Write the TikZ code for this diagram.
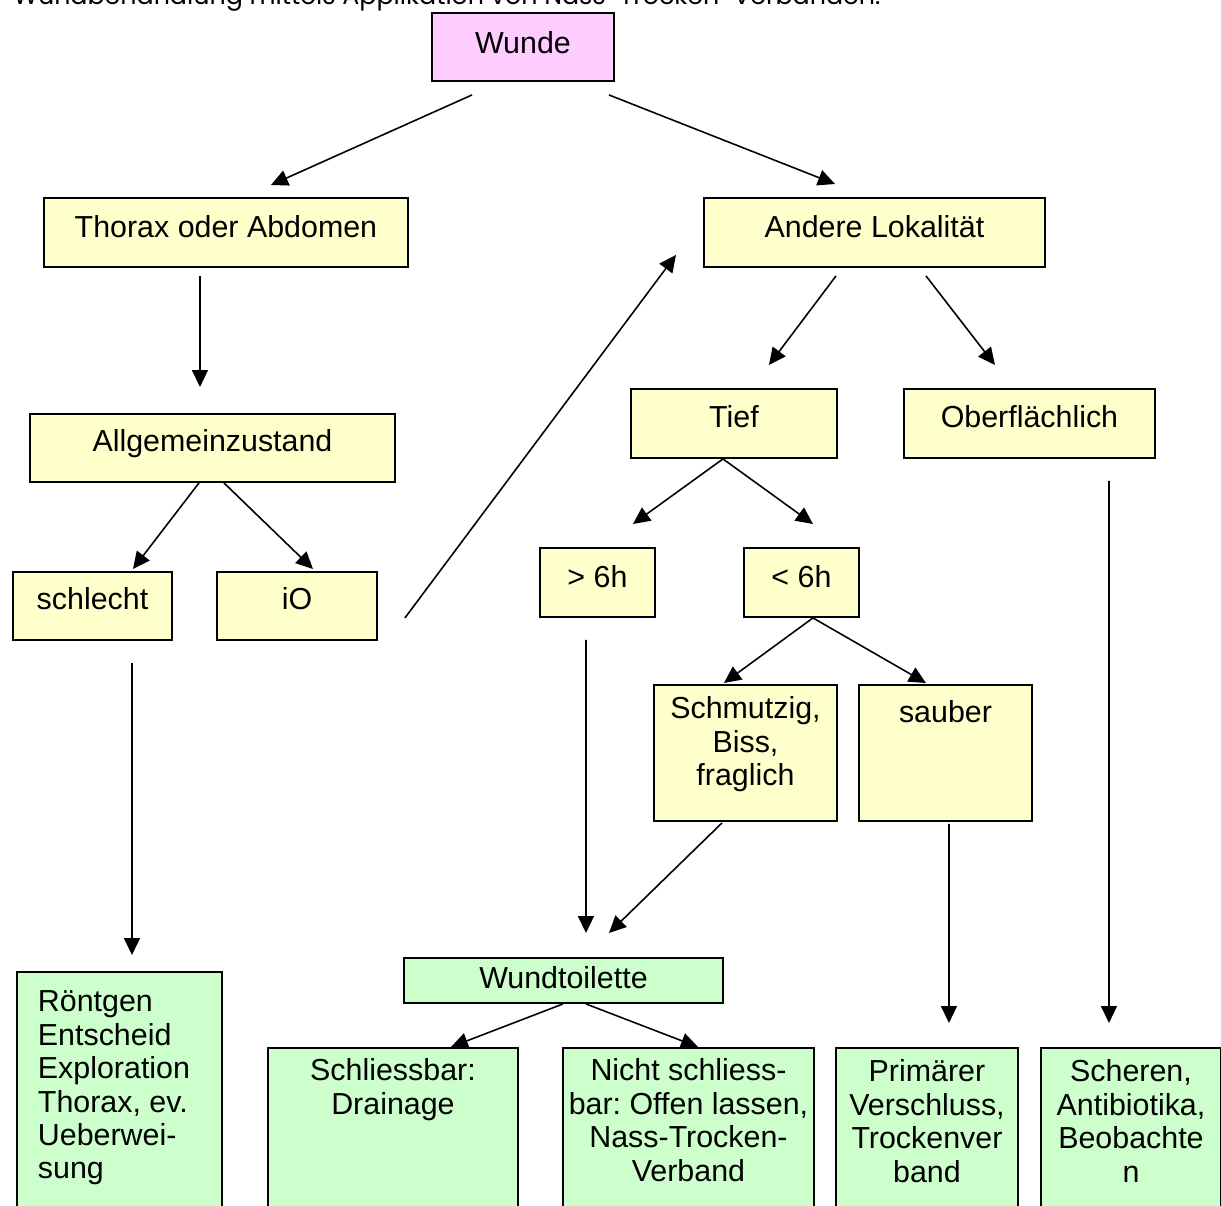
\documentclass[tikz,border=0pt]{standalone}
\usepackage{fontspec}
\setmainfont{Liberation Sans}
\newfontfamily\titlefont{Poppins}
\usepackage{graphicx}
\usetikzlibrary{arrows.meta}
\frenchspacing
\definecolor{boxyellow}{RGB}{255,255,204}
\definecolor{boxgreen}{RGB}{204,255,204}
\definecolor{boxpink}{RGB}{255,204,255}
\newdimen\px \px=0.02cm
% box content: [alignment]{width}{height}{first baseline}{text}
\newcommand{\cell}[5][\centering]{\begin{minipage}[t][#3\px][t]{#2\px}\vspace*{\dimexpr#4\px-\ht\strutbox\relax}#1\strut#5\end{minipage}}
\tikzstyle{yellowbox} = [rectangle, draw=black, line width=1.1pt, fill=boxyellow, inner sep=0pt, anchor=north west, font=\fontsize{17.3}{19}\selectfont]
\tikzstyle{greenbox} = [yellowbox, fill=boxgreen]
\tikzstyle{pinkbox} = [yellowbox, fill=boxpink]
\tikzstyle{arrow} = [line width=0.9pt,-{Triangle[length=0.34cm,width=0.32cm]}]
\begin{document}
\begin{tikzpicture}[x=0.02cm, y=-0.02cm]
\useasboundingbox (0,0) rectangle (1221,1206);
\clip (0,0) rectangle (1221,1206);
\node (titel) [anchor=base west, inner sep=0pt] at (13,5) {\resizebox{867\px}{!}{\titlefont Wundbehandlung mittels Applikation von Nass-Trocken-Verbänden.}};

\node (wunde) [pinkbox] at (431,12) {\cell{182}{68}{41}{Wunde}};
\node (thorax) [yellowbox] at (43,197) {\cell{364}{69}{40}{Thorax oder Abdomen}};
\node (andere) [yellowbox] at (703,197) {\cell{341}{69}{40}{Andere Lokalität}};
\node (allg) [yellowbox] at (29,413) {\cell{365}{68}{38}{Allgemeinzustand}};
\node (schlecht) [yellowbox] at (12,571) {\cell{159}{68}{38}{schlecht}};
\node (io) [yellowbox] at (216,571) {\cell{160}{68}{38}{iO}};
\node (tief) [yellowbox] at (630,388) {\cell{206}{69}{39}{Tief}};
\node (oberfl) [yellowbox] at (903,388) {\cell{251}{69}{39}{Oberflächlich}};
\node (gt6) [yellowbox] at (539,547) {\cell{115}{69}{40}{> 6h}};
\node (lt6) [yellowbox] at (743,547) {\cell{115}{69}{40}{< 6h}};
\node (schmutz) [yellowbox] at (653,684) {\cell{183}{136}{34}{Schmutzig,\\Biss,\\fraglich}};
\node (sauber) [yellowbox] at (858,684) {\cell{173}{136}{38}{sauber}};
\node (wundt) [greenbox] at (403,957) {\cell{319}{45}{31}{Wundtoilette}};
\node (roentgen) [greenbox] at (16,971) {\cell[\raggedright\leftskip=21\px]{205}{250}{40}{Röntgen\\Entscheid\\Exploration\\Thorax, ev.\\Ueberwei-\\sung}};
\node (schliess) [greenbox] at (267,1047) {\cell{250}{170}{33}{Schliessbar:\\Drainage}};
\node (nicht) [greenbox] at (562,1047) {\cell{251}{170}{33}{Nicht schliess-\\bar: Offen lassen,\\Nass-Trocken-\\Verband}};
\node (primaer) [greenbox] at (835,1047) {\cell{182}{170}{34}{Primärer\\Verschluss,\\Trockenver\\band}};
\node (scheren) [greenbox] at (1040,1047) {\cell{180}{170}{34}{Scheren,\\Antibiotika,\\Beobachte\\n}};

\draw [arrow] ([shift={(41,13)}]wunde.south west) -- ([shift={(45,-12)}]thorax.north);
\draw [arrow] ([shift={(-6,13)}]wunde.south east) -- ([shift={(132,-13)}]andere.north west);
\draw [arrow] ([shift={(-26,8)}]thorax.south) -- ([shift={(-12.5,-26)}]allg.north);
\draw [arrow] ([shift={(27,-23)}]io.south east) -- ([shift={(-27,-13)}]andere.south west);
\draw [arrow] ([shift={(133,8)}]andere.south west) -- ([shift={(35,-23)}]tief.north);
\draw [arrow] ([shift={(223,8)}]andere.south west) -- ([shift={(-34.5,-23)}]oberfl.north);
\draw [arrow] ([shift={(-13.5,0)}]allg.south) -- ([shift={(40.5,-2)}]schlecht.north);
\draw [arrow] ([shift={(11.5,0)}]allg.south) -- ([shift={(16,-2)}]io.north);
\draw [arrow] ([shift={(-11,0)}]tief.south) -- ([shift={(35.5,-23)}]gt6.north);
\draw [arrow] ([shift={(-11,0)}]tief.south) -- ([shift={(11.5,-23)}]lt6.north);
\draw [arrow] ([shift={(11.5,0)}]lt6.south) -- ([shift={(-21.5,-1)}]schmutz.north);
\draw [arrow] ([shift={(11.5,0)}]lt6.south) -- ([shift={(-19.5,-1)}]sauber.north);
\draw [arrow] ([shift={(39.5,22)}]schlecht.south) -- ([shift={(12.5,-16)}]roentgen.north);
\draw [arrow] ([shift={(-11.5,22)}]gt6.south) -- ([shift={(22.5,-24)}]wundt.north);
\draw [arrow] ([shift={(-23.5,1)}]schmutz.south) -- ([shift={(45.5,-24)}]wundt.north);
\draw [arrow] ([shift={(3.5,2)}]sauber.south) -- ([shift={(22,-24)}]primaer.north);
\draw [arrow] ([shift={(79.5,22)}]oberfl.south) -- ([shift={(-22,-24)}]scheren.north);
\draw [arrow] ([shift={(-0.5,0)}]wundt.south) -- ([shift={(58,0)}]schliess.north);
\draw [arrow] ([shift={(22.5,0)}]wundt.south) -- ([shift={(9.5,0)}]nicht.north);
\end{tikzpicture}
\end{document}
